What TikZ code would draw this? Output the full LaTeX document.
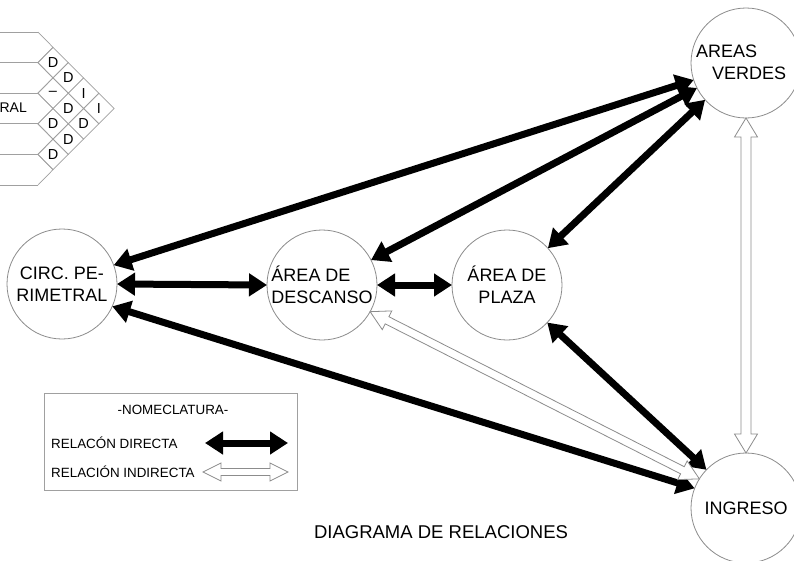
\documentclass[tikz,border=0pt]{standalone}
\usepackage{fontspec}
\setmainfont{Liberation Sans}
\usetikzlibrary{arrows.meta,calc}
\definecolor{lgray}{HTML}{8C8C8C}
\definecolor{ggray}{HTML}{A0A0A0}
\newcommand\cellu{15.3}
\tikzset{
 place/.style={circle, draw=lgray, line width=0.8pt, minimum size=110pt, inner sep=0pt, outer sep=0pt, font=\fontsize{18}{22}\selectfont},
 lbl/.style={font=\fontsize{18}{22}\selectfont, inner sep=0pt},
 direct/.style={line width=7pt, {Triangle[length=18pt,width=22pt]}-{Triangle[length=18pt,width=22pt]}},
 hollow/.style={draw=lgray, fill=white, line width=0.8pt, line join=miter},
 gridline/.style={draw=ggray, line width=0.7pt},
 cell/.style={font=\fontsize{14.5}{14.5}\selectfont, inner sep=0pt},
 legtext/.style={font=\fontsize{13.4}{15}\selectfont, inner sep=0pt},
}
\newcommand\hollowarr[5]{%
 \path (#1) coordinate (hA) (#2) coordinate (hB);
 \coordinate (hA1) at ($(hA)!#3!(hB)$);
 \coordinate (hB1) at ($(hB)!#3!(hA)$);
 \draw[hollow] (hA) -- ($(hA1)!#4!90:(hB)$) -- ($(hA1)!#5!90:(hB)$)
   -- ($(hB1)!#5!-90:(hA)$) -- ($(hB1)!#4!-90:(hA)$) -- (hB)
   -- ($(hB1)!#4!90:(hA)$) -- ($(hB1)!#5!90:(hA)$)
   -- ($(hA1)!#5!-90:(hB)$) -- ($(hA1)!#4!-90:(hB)$) -- cycle;
}
\begin{document}
\begin{tikzpicture}[x=1pt,y=-1pt]
\useasboundingbox (0,0) rectangle (794,560);
\clip (0,0) rectangle (794,560);
\fill[white] (0,0) rectangle (794,560);

% relation matrix (partial)
\foreach \k in {0,...,5} { \draw[gridline] (0,{32+2*\cellu*\k}) -- (38,{32+2*\cellu*\k}); }
\foreach \i in {1,...,5} { \draw[gridline] (38,{32+2*\cellu*(\i-1)}) -- (53,{32+\cellu*(2*\i-1)}) -- (38,{32+2*\cellu*\i}); }
\foreach \i/\j/\t in {1/2/D,1/3/D,2/3/{–},1/4/I,2/4/D,3/4/D,1/5/I,2/5/D,3/5/D,4/5/D} {
  \draw[gridline] ({53+(\j-\i-1)*\cellu-\cellu},{32+\cellu*(\i+\j-1)}) -- ({53+(\j-\i-1)*\cellu},{32+\cellu*(\i+\j-2)})
     -- ({53+(\j-\i-1)*\cellu+\cellu},{32+\cellu*(\i+\j-1)}) -- ({53+(\j-\i-1)*\cellu},{32+\cellu*(\i+\j)}) -- cycle;
  \node[cell] (c\i\j) at ({53+(\j-\i-1)*\cellu},{32+\cellu*(\i+\j-1)}) {\t};
}
\node[cell, font=\fontsize{14}{14}\selectfont, anchor=east] (ral) at (27,108) {RAL};

% places
\node[place, align=center] (cp) at (62,284) {CIRC. PE-\\RIMETRAL};
\node[place, align=left] (ad) at (322,285) {ÁREA DE\\DESCANSO};
\node[place, align=center] (ap) at (507,285) {ÁREA DE\\PLAZA};
\node[place] (av) at (746,63) {};
\node[lbl, align=left] (avt) at (741,62) {AREAS\\\hspace*{16pt}VERDES};
\node[place] (ing) at (746,508) {INGRESO};

% direct relations
\draw[direct] (cp.20) -- (av.198);
\draw[direct] (cp.0) -- (ad.180);
\draw[direct] (cp.-24) -- (ing.159);
\draw[direct] (ad.27) -- (av.207);
\draw[direct] (ad.0) -- (ap.180);
\draw[direct] (ap.42) -- (av.222);
\draw[direct] (ap.-43) -- (ing.136);

% indirect relations
\hollowarr{ad.-29}{ing.148}{19pt}{10.5pt}{4pt}
\hollowarr{av.270}{ing.90}{19pt}{11.5pt}{5pt}

% legend
\draw[draw=ggray, line width=0.8pt] (44,393) rectangle (297,490);
\node[legtext] (nom) at (173,410) {-NOMECLATURA-};
\node[legtext, anchor=west] (rd) at (51,443) {RELACÓN DIRECTA};
\node[legtext, anchor=west] (ri) at (51,472) {RELACIÓN INDIRECTA};
\coordinate (l1a) at (205,443);
\coordinate (l1b) at (288,443);
\draw[direct] (l1a) -- (l1b);
\coordinate (l2a) at (203,472);
\coordinate (l2b) at (288,472);
\hollowarr{l2a}{l2b}{18pt}{9pt}{3.5pt}

% title
\node[font=\fontsize{18.5}{22}\selectfont, inner sep=0pt] (title) at (441,532) {DIAGRAMA DE RELACIONES};
\end{tikzpicture}
\end{document}
